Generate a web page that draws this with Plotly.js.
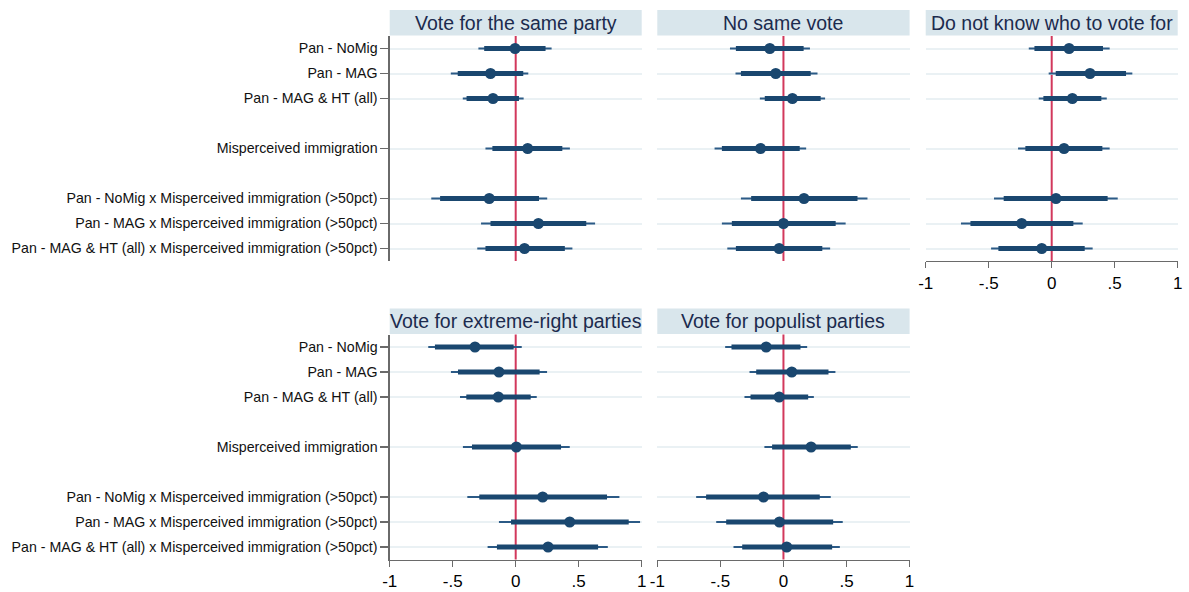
<!DOCTYPE html>
<html>
<head>
<meta charset="utf-8">
<script src="https://cdn.plot.ly/plotly-3.0.1.min.js"></script>
<style>
  html, body { margin: 0; padding: 0; background: #fff; }
  #chart { width: 1189px; height: 592px; }
</style>
</head>
<body>
<div id="chart"></div>
<script>
// Coefficient labels, top to bottom, with the block each one belongs to
const labels = [
  "Pan - NoMig",
  "Pan - MAG",
  "Pan - MAG & HT (all)",
  "Misperceived immigration",
  "Pan - NoMig x Misperceived immigration (>50pct)",
  "Pan - MAG x Misperceived immigration (>50pct)",
  "Pan - MAG & HT (all) x Misperceived immigration (>50pct)"
];
const blocks = [1, 1, 1, 2, 3, 3, 3];

const panelTitles = [
  "Vote for the same party",
  "No same vote",
  "Do not know who to vote for",
  "Vote for extreme-right parties",
  "Vote for populist parties"
];

// Point estimates, 90% and 95% confidence bounds per outcome
const samePartyCoef = [-0.005, -0.200, -0.180, 0.095, -0.210, 0.180, 0.070];
const samePartyLo90 = [-0.250, -0.460, -0.390, -0.185, -0.600, -0.200, -0.240];
const samePartyHi90 = [0.237, 0.060, 0.026, 0.370, 0.185, 0.560, 0.390];
const samePartyLo95 = [-0.296, -0.515, -0.420, -0.240, -0.670, -0.275, -0.305];
const samePartyHi95 = [0.285, 0.100, 0.063, 0.430, 0.250, 0.630, 0.450];

const noSameCoef = [-0.108, -0.061, 0.071, -0.182, 0.163, 0.000, -0.034];
const noSameLo90 = [-0.377, -0.337, -0.148, -0.488, -0.256, -0.409, -0.377];
const noSameHi90 = [0.160, 0.216, 0.295, 0.129, 0.587, 0.414, 0.308];
const noSameLo95 = [-0.424, -0.380, -0.187, -0.546, -0.337, -0.488, -0.445];
const noSameHi95 = [0.210, 0.270, 0.330, 0.180, 0.666, 0.493, 0.370];

const dontKnowCoef = [0.138, 0.304, 0.164, 0.098, 0.034, -0.238, -0.079];
const dontKnowLo90 = [-0.137, 0.032, -0.066, -0.209, -0.381, -0.645, -0.423];
const dontKnowHi90 = [0.407, 0.590, 0.394, 0.402, 0.444, 0.172, 0.262];
const dontKnowLo95 = [-0.182, -0.024, -0.103, -0.267, -0.458, -0.720, -0.481];
const dontKnowHi95 = [0.460, 0.640, 0.437, 0.460, 0.524, 0.246, 0.325];

const extremeRightCoef = [-0.323, -0.133, -0.138, 0.005, 0.214, 0.429, 0.257];
const extremeRightLo90 = [-0.641, -0.458, -0.392, -0.347, -0.289, -0.037, -0.149];
const extremeRightHi90 = [-0.016, 0.190, 0.119, 0.360, 0.725, 0.897, 0.654];
const extremeRightLo95 = [-0.694, -0.514, -0.442, -0.419, -0.384, -0.133, -0.223];
const extremeRightHi95 = [0.048, 0.249, 0.167, 0.429, 0.823, 0.987, 0.731];

const populistCoef = [-0.137, 0.066, -0.034, 0.219, -0.158, -0.032, 0.026];
const populistLo90 = [-0.412, -0.216, -0.261, -0.090, -0.613, -0.454, -0.327];
const populistHi90 = [0.135, 0.357, 0.196, 0.534, 0.288, 0.394, 0.386];
const populistLo95 = [-0.462, -0.269, -0.309, -0.151, -0.692, -0.533, -0.396];
const populistHi95 = [0.188, 0.412, 0.241, 0.589, 0.375, 0.470, 0.447];

const xTickVals = [-1, -0.5, 0, 0.5, 1];
const xTickText = ["-1", "-.5", "0", ".5", "1"];

const panels = [
  { coef: samePartyCoef, lo90: samePartyLo90, hi90: samePartyHi90, lo95: samePartyLo95, hi95: samePartyHi95 },
  { coef: noSameCoef, lo90: noSameLo90, hi90: noSameHi90, lo95: noSameLo95, hi95: noSameHi95 },
  { coef: dontKnowCoef, lo90: dontKnowLo90, hi90: dontKnowHi90, lo95: dontKnowLo95, hi95: dontKnowHi95 },
  { coef: extremeRightCoef, lo90: extremeRightLo90, hi90: extremeRightHi90, lo95: extremeRightLo95, hi95: extremeRightHi95 },
  { coef: populistCoef, lo90: populistLo90, hi90: populistHi90, lo95: populistLo95, hi95: populistHi95 }
];

// Row positions: one empty row between blocks
const rowPos = labels.map((_, i) => i + 1 + (blocks[i] - 1));
const nRows = rowPos[rowPos.length - 1];

// Figure geometry (pixels)
const W = 1189, H = 592;
const colPx = [[389.7, 641.7], [657.3, 909.6], [925.7, 1177.7]];
const rowPx = [[36, 261], [334.5, 559.5]];
const headerPx = 26;
const navy = "#1a476f";
const red = "#d2385c";
const fontFam = "'Liberation Sans', Arial, Helvetica, sans-serif";

const cells = [
  { col: 0, row: 0, xAxis: false, yLabels: true },
  { col: 1, row: 0, xAxis: false, yLabels: false },
  { col: 2, row: 0, xAxis: true, yLabels: false },
  { col: 0, row: 1, xAxis: true, yLabels: true },
  { col: 1, row: 1, xAxis: true, yLabels: false }
];

function segments(lo, hi) {
  const xs = [], ys = [];
  lo.forEach((v, i) => { xs.push(v, hi[i], null); ys.push(rowPos[i], rowPos[i], null); });
  return { xs, ys };
}

const traces = [];
const layout = {
  width: W, height: H,
  margin: { l: 0, r: 0, t: 0, b: 0 },
  paper_bgcolor: "#ffffff",
  plot_bgcolor: "#ffffff",
  showlegend: false,
  font: { family: fontFam, color: "#000000" },
  shapes: [],
  annotations: []
};

panels.forEach((p, k) => {
  const n = k + 1;
  const xa = "x" + (n === 1 ? "" : n), ya = "y" + (n === 1 ? "" : n);
  const cell = cells[k];

  const thin = segments(p.lo95, p.hi95);
  traces.push({ type: "scatter", mode: "lines", x: thin.xs, y: thin.ys, xaxis: xa, yaxis: ya,
    line: { color: "#2b5a86", width: 2 }, hoverinfo: "skip", connectgaps: false });
  const thick = segments(p.lo90, p.hi90);
  traces.push({ type: "scatter", mode: "lines", x: thick.xs, y: thick.ys, xaxis: xa, yaxis: ya,
    line: { color: navy, width: 5 }, hoverinfo: "skip", connectgaps: false });
  traces.push({ type: "scatter", mode: "markers", x: p.coef, y: rowPos, xaxis: xa, yaxis: ya,
    marker: { color: navy, size: 11, line: { width: 0 } } });

  const cx = colPx[cell.col], ry = rowPx[cell.row];
  layout["xaxis" + (n === 1 ? "" : n)] = {
    domain: [cx[0] / W, cx[1] / W],
    anchor: ya,
    range: [-1, 1],
    tickvals: xTickVals,
    ticktext: xTickText,
    showticklabels: cell.xAxis,
    showline: cell.xAxis,
    linecolor: "#6a6a6a",
    linewidth: 1.3,
    ticks: cell.xAxis ? "outside" : "",
    ticklen: 6,
    tickwidth: 1.3,
    tickcolor: "#6a6a6a",
    tickfont: { size: 17, family: fontFam, color: "#000" },
    showgrid: false,
    zeroline: false,
    fixedrange: true
  };
  layout["yaxis" + (n === 1 ? "" : n)] = {
    domain: [1 - ry[1] / H, 1 - ry[0] / H],
    anchor: xa,
    range: [nRows + 0.5, 0.5],
    tickvals: rowPos,
    ticktext: labels,
    showticklabels: cell.yLabels,
    showline: cell.yLabels,
    linecolor: "#6a6a6a",
    linewidth: 1.3,
    ticks: cell.yLabels ? "outside" : "",
    ticklen: 8,
    tickwidth: 1.3,
    tickcolor: "#6a6a6a",
    tickfont: { size: 14.2, family: fontFam, color: "#111" },
    showgrid: true,
    gridcolor: "#eaf1f4",
    gridwidth: 2,
    zeroline: false,
    fixedrange: true
  };

  // reference line at zero
  layout.shapes.push({ type: "line", xref: xa, yref: ya + " domain", x0: 0, x1: 0, y0: 0, y1: 1,
    line: { color: red, width: 2 }, layer: "below" });

  // header strip
  const hTop = 1 + headerPx / (ry[1] - ry[0]);
  layout.shapes.push({ type: "rect", xref: xa + " domain", yref: ya + " domain", x0: 0, x1: 1, y0: 1.002, y1: hTop,
    fillcolor: "#d9e6ec", line: { width: 0 }, layer: "below" });
  layout.annotations.push({ xref: xa + " domain", yref: ya + " domain", x: 0.5, y: (1 + hTop) / 2,
    xanchor: "center", yanchor: "middle", showarrow: false, text: panelTitles[k],
    font: { size: 19.5, family: fontFam, color: "#1c2b4e" } });
});

Plotly.newPlot("chart", traces, layout, { staticPlot: true, displayModeBar: false });
</script>
</body>
</html>
